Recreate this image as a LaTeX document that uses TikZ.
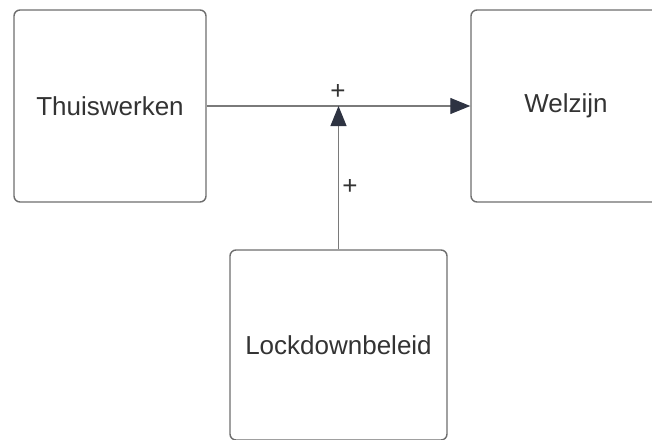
\documentclass[tikz,border=0pt]{standalone}
\usepackage{fontspec}
\setmainfont{Liberation Sans}
\usetikzlibrary{
  arrows.meta,  % Triangle 箭头
  positioning   % 节点相对定位
}
\definecolor{kader}{HTML}{6E6E6E}
\definecolor{lijn}{HTML}{7A7A7A}
\definecolor{tekst}{HTML}{333333}
\definecolor{pijl}{HTML}{2E3342}

\tikzset{
  blok/.style={draw=kader, line width=0.7pt, rounded corners=3pt,
    fill=white, text=tekst, font=\fontsize{13}{15}\selectfont,
    minimum width=96pt, minimum height=96pt},
  verband/.style={draw=lijn, line width=0.55pt,
    -{Triangle[length=10pt, width=8pt, color=pijl]}},
  teken/.style={text=tekst, font=\fontsize{13}{15}\selectfont}
}

\begin{document}
\begin{tikzpicture}[x=0.5pt, y=-0.5pt]

  % =========== 画布 (652 x 439) ===========
  \useasboundingbox (0,0) rectangle (652,439);
  \clip (0,0) rectangle (652,439);

  % =========== 三个方框 ===========
  \node[blok] (thuis) at (110,106) {Thuiswerken};
  \node[blok, minimum width=95pt] (welzijn) at (566,106) {Welzijn};
  \node[blok, minimum width=108.5pt, minimum height=95pt] (lock) at (338.5,345) {Lockdownbeleid};

  % =========== 主箭头：Thuiswerken -> Welzijn ===========
  \draw[verband] (thuis) -- (welzijn);
  \coordinate (kruis) at (338.5,106);   % 调节箭头落点
  \node[teken] (plus1) at (338,92) {+};

  % =========== 调节箭头：Lockdownbeleid -> 主箭头 ===========
  \draw[verband] (lock.north) -- (kruis);
  \node[teken] (plus2) at (350,187) {+};

\end{tikzpicture}
\end{document}
